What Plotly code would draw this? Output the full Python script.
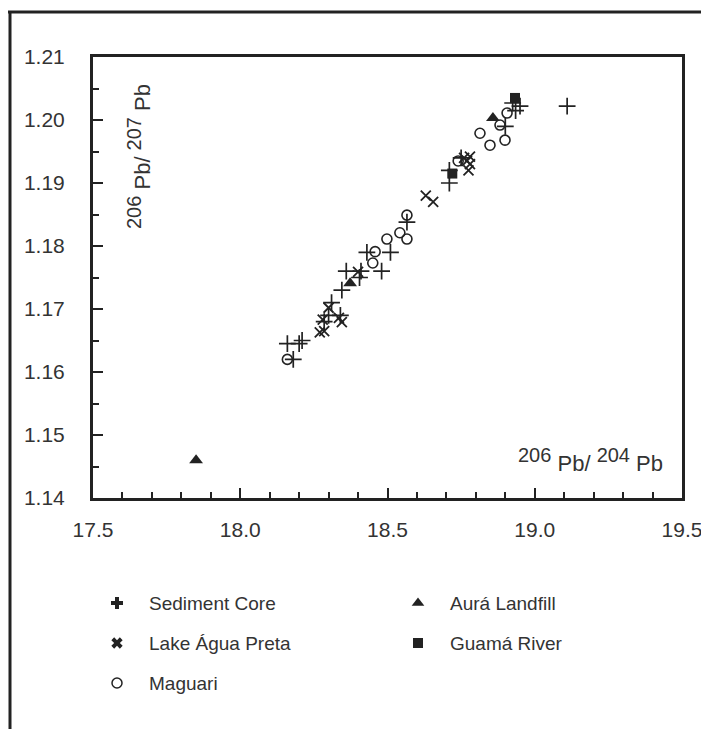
import plotly.graph_objects as go

# page has an 8px body margin; figure is sized to fill the 709x729 window
OFF = 8
W, H = 709 - OFF, 729 - OFF

# ---- data (206Pb/204Pb, 206Pb/207Pb) ----
sed_x = [18.16, 18.18, 18.20, 18.21, 18.285, 18.31, 18.30, 18.34, 18.345, 18.36, 18.405, 18.41,
         18.43, 18.48, 18.51, 18.566, 18.71, 18.71, 18.75, 18.90, 18.925, 18.95, 19.11, 18.935]
sed_y = [1.1645, 1.162, 1.1645, 1.165, 1.168, 1.171, 1.169, 1.169, 1.173, 1.176, 1.175, 1.176,
         1.179, 1.176, 1.179, 1.1838, 1.190, 1.192, 1.194, 1.199, 1.2027, 1.2022, 1.2022, 1.2015]

lake_x = [18.27, 18.285, 18.28, 18.30, 18.335, 18.345, 18.40, 18.63, 18.655, 18.76, 18.77, 18.78, 18.775, 18.78]
lake_y = [1.1663, 1.1665, 1.1683, 1.1702, 1.1686, 1.1679, 1.1759, 1.188, 1.187, 1.194, 1.1935, 1.193, 1.192, 1.1942]

mag_x = [18.16, 18.45, 18.458, 18.498, 18.542, 18.566, 18.566, 18.74, 18.814, 18.848, 18.882, 18.899, 18.906]
mag_y = [1.162, 1.1773, 1.1791, 1.1811, 1.1821, 1.1811, 1.1849, 1.1935, 1.1979, 1.196, 1.1992, 1.1968, 1.2011]

aura_x = [17.85, 18.373, 18.858]
aura_y = [1.146, 1.1741, 1.2003]

guama_x = [18.72, 18.933]
guama_y = [1.1915, 1.2035]

x_ticks = [17.5, 18.0, 18.5, 19.0, 19.5]
y_ticks = [1.14, 1.15, 1.16, 1.17, 1.18, 1.19, 1.20, 1.21]

legend_names = ["Sediment Core", "Lake Água Preta", "Maguari", "Aurá Landfill", "Guamá River"]

INK = "#222222"
TXT = "#333333"
FONT = "Liberation Sans, Arial, sans-serif"

# plot area in window pixels
L, R, T, B = 93, 682, 57, 498

def px(x):
    return (x - OFF) / W

def py(y):
    return 1 - (y - OFF) / H

fig = go.Figure()

def add(xs, ys, sym, size, lw=1.6):
    fig.add_trace(go.Scatter(
        x=xs, y=ys, mode="markers", showlegend=False, hoverinfo="skip",
        marker=dict(symbol=sym, size=size, color=INK, line=dict(color=INK, width=lw)),
        xaxis="x", yaxis="y"))

add(sed_x, sed_y, "cross-thin-open", 12, 1.7)
add(lake_x, lake_y, "x-thin-open", 10, 1.8)
add(mag_x, mag_y, "circle-open", 10, 1.6)
add(aura_x, aura_y, "triangle-up", 12, 0)
add(guama_x, guama_y, "square", 10, 0)

# ---- custom legend on a pixel-space overlay axis (window coordinates) ----
leg_sym = ["cross", "x", "circle-open", "triangle-up", "square"]
leg_size = [10, 10, 10, 11, 10]
leg_col_x = [117, 117, 117, 418, 418]
leg_row_y = [603, 643, 683, 603, 643]
for name, s, sz, lx, ly in zip(legend_names, leg_sym, leg_size, leg_col_x, leg_row_y):
    fig.add_trace(go.Scatter(
        x=[lx], y=[ly], mode="markers", showlegend=False, hoverinfo="skip",
        marker=dict(symbol=s, size=sz, color=INK,
                    line=dict(color=INK, width=1.5 if s == "circle-open" else 0)),
        xaxis="x2", yaxis="y2"))
    fig.add_annotation(x=lx + 30, y=ly, xref="x2", yref="y2", text=name, showarrow=False,
                       xanchor="left", yanchor="middle",
                       font=dict(family=FONT, size=19, color=TXT))

tick_font = dict(family=FONT, size=21, color=TXT)

fig.update_layout(
    width=W, height=H, autosize=False,
    margin=dict(l=0, r=0, t=0, b=0, pad=0, autoexpand=False),
    paper_bgcolor="white", plot_bgcolor="rgba(0,0,0,0)",
    xaxis=dict(domain=[px(L), px(R)], range=[17.5, 19.5], tickvals=x_ticks,
               ticktext=[f"{v:.1f}" for v in x_ticks], automargin=False,
               showgrid=False, zeroline=False, showline=True, mirror=True,
               linecolor=INK, linewidth=3, ticks="inside", ticklen=10, tickwidth=1.5,
               tickcolor=INK, tickfont=tick_font, ticklabelstandoff=11,
               minor=dict(ticks="inside", dtick=0.1, ticklen=6, tickwidth=1.5, tickcolor=INK),
               anchor="y"),
    yaxis=dict(domain=[py(B), py(T)], range=[1.14, 1.21], tickvals=y_ticks,
               ticktext=[f"{v:.2f}" for v in y_ticks], automargin=False,
               showgrid=False, zeroline=False, showline=True, mirror=True,
               linecolor=INK, linewidth=3, ticks="inside", ticklen=10, tickwidth=1.5,
               tickcolor=INK, tickfont=tick_font, ticklabelstandoff=21,
               minor=dict(ticks="inside", dtick=0.005, ticklen=6, tickwidth=1.5, tickcolor=INK),
               anchor="x"),
    xaxis2=dict(domain=[0, 1], range=[OFF, 709], visible=False, anchor="y2",
                fixedrange=True, automargin=False),
    yaxis2=dict(domain=[0, 1], range=[729, OFF], visible=False, anchor="x2",
                fixedrange=True, automargin=False),
    showlegend=False,
)

title_font = dict(family=FONT, size=22, color=TXT)
SUP = '<sup><span style="font-size:20px">{}</span></sup>'
fig.add_annotation(x=px(139), y=py(157), xref="paper", yref="paper",
                   text=SUP.format("206") + " Pb/ " + SUP.format("207") + " Pb",
                   textangle=-90, showarrow=False,
                   font=title_font, xanchor="center", yanchor="middle")
fig.add_annotation(x=px(590), y=py(460), xref="paper", yref="paper",
                   text=SUP.format("206") + " Pb/ " + SUP.format("204") + " Pb",
                   showarrow=False,
                   font=title_font, xanchor="center", yanchor="middle")

# outer frame (left and top)
fig.add_shape(type="line", xref="paper", yref="paper", x0=px(10), x1=px(10), y0=0, y1=py(11),
              line=dict(color=INK, width=3))
fig.add_shape(type="line", xref="paper", yref="paper", x0=0, x1=1, y0=py(12), y1=py(12),
              line=dict(color=INK, width=3))

fig.write_html("out.html")
